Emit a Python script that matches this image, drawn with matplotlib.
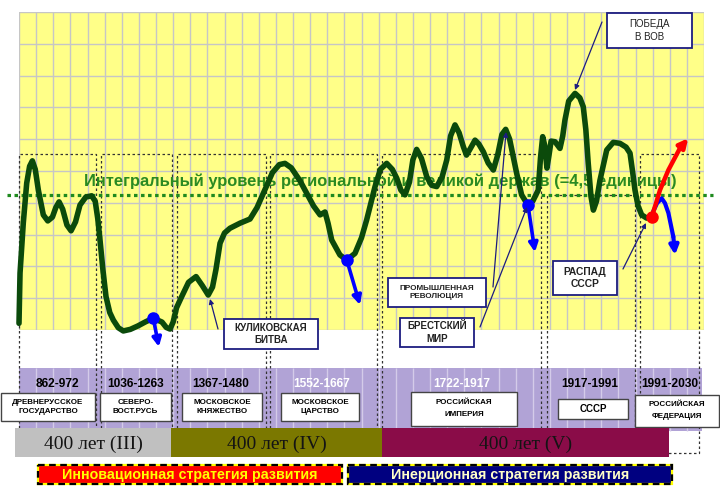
import matplotlib
matplotlib.use('Agg')
import matplotlib.pyplot as plt
from matplotlib.patches import Rectangle

plt.rcParams['font.family'] = ['Liberation Sans', 'DejaVu Sans']

# ---------------- data (grid units: x = grid column, y = level in grid rows) ----
curve_x = [0.00, 0.06, 0.25, 0.45, 0.62, 0.78, 0.95, 1.13, 1.42, 1.68, 1.95, 2.15, 2.34, 2.55,
           2.80, 3.04, 3.30, 3.56, 3.90, 4.24, 4.45, 4.60, 4.73, 4.90, 5.08, 5.30, 5.51, 5.80,
           6.09, 6.50, 6.95, 7.40, 7.84, 8.35, 8.60, 8.82, 9.00, 9.20, 9.50, 9.90, 10.34, 10.70,
           11.05, 11.30, 11.50, 11.74, 12.00, 12.32, 12.91, 13.49, 13.90, 14.27, 14.80, 15.20,
           15.53, 15.90, 16.40, 16.80, 17.20, 17.58, 17.87, 18.05, 18.26, 18.74, 19.14, 19.62,
           20.00, 20.30, 20.79, 21.10, 21.47, 21.80, 22.06, 22.30, 22.54, 22.80, 23.00, 23.22,
           23.50, 23.81, 24.10, 24.39, 24.70, 24.98, 25.20, 25.46, 25.70, 25.95, 26.13, 26.35,
           26.63, 26.85, 27.11, 27.40, 27.70, 27.95, 28.20, 28.42, 28.65, 29.06, 29.35, 29.69,
           30.00, 30.32, 30.45, 30.58, 30.70, 30.83, 30.95, 31.07, 31.30, 31.59, 31.75, 31.88,
           32.10, 32.47, 32.75, 32.95, 33.10, 33.24, 33.40, 33.54, 33.72, 33.93, 34.32, 34.70,
           35.09, 35.45, 35.68, 35.85, 35.97, 36.15, 36.36, 36.65, 36.95]
curve_y = [0.21, 1.79, 3.36, 4.62, 5.15, 5.32, 5.05, 4.40, 3.62, 3.43, 3.55, 3.85, 4.03, 3.80,
           3.30, 3.12, 3.40, 3.93, 4.18, 4.22, 4.05, 3.50, 2.83, 1.89, 1.05, 0.55, 0.31, 0.07,
           -0.03, 0.02, 0.13, 0.26, 0.37, 0.25, 0.08, 0.03, 0.25, 0.70, 1.05, 1.50, 1.68, 1.40,
           1.10, 1.35, 1.90, 2.73, 3.05, 3.20, 3.36, 3.49, 3.85, 4.30, 4.95, 5.20,
           5.24, 5.10, 4.70, 4.30, 3.90, 3.62, 3.71, 3.35, 2.83, 2.36, 2.20, 2.41,
           2.90, 3.46, 4.51, 5.05, 5.24, 5.05, 4.77, 4.40, 4.25, 4.65, 5.35, 5.68,
           5.40, 4.82, 4.55, 4.51, 4.80, 5.35, 6.10, 6.45, 6.20, 5.76, 5.50, 5.70,
           5.97, 5.85, 5.61, 5.25, 5.03, 5.50, 6.15, 6.31, 6.00, 4.93, 4.25, 3.95,
           4.05, 4.40, 5.40, 6.08, 5.80, 5.09, 5.50, 5.94, 5.92, 5.71, 6.10, 6.60,
           7.20, 7.44, 7.30, 7.02, 6.30, 5.24, 4.20, 3.77, 4.05, 4.72, 5.66, 5.90,
           5.87, 5.75, 5.56, 4.90, 4.40, 3.90, 3.62, 3.52, 3.55]

level_value = 4.25
level_label = 'Интегральный уровень региональной и великой держав (=4,5 единицы)'

# crisis points (blue) and the direction of decline (arrow tips)
crisis_x = [7.84, 19.14, 29.72]
crisis_y = [0.37, 2.20, 3.93]
crisis_tip_x = [8.17, 19.91, 30.13]
crisis_tip_y = [-0.53, 0.79, 2.45]

# scenarios after the collapse of the USSR
red_x = [36.95, 37.20, 37.43, 37.92, 38.59, 39.08]
red_y = [3.56, 3.99, 4.40, 5.03, 5.71, 6.03]
blue_x = [37.02, 37.26, 37.53, 37.72, 37.92, 38.21, 38.31]
blue_y = [3.71, 3.99, 4.14, 3.99, 3.68, 2.93, 2.36]

# periods (grid-column spans)
period_start = [0.00, 4.77, 9.21, 14.66, 21.20, 30.81, 36.26]
period_end = [4.47, 8.92, 14.41, 20.88, 30.51, 35.97, 39.71]
period_top = [5.53, 5.53, 5.53, 5.53, 5.53, 4.25, 5.53]
period_years = ['862-972', '1036-1263', '1367-1480', '1552-1667', '1722-1917', '1917-1991', '1991-2030']
period_names = ['ДРЕВНЕРУССКОЕ\nГОСУДАРСТВО', 'СЕВЕРО-\nВОСТ.РУСЬ', 'МОСКОВСКОЕ\nКНЯЖЕСТВО',
                'МОСКОВСКОЕ\nЦАРСТВО', 'РОССИЙСКАЯ\nИМПЕРИЯ', 'СССР', 'РОССИЙСКАЯ\nФЕДЕРАЦИЯ']

cycle_labels = ['400 лет (III)', '400 лет (IV)', '400 лет (V)']
strategy_labels = ['Инновационная стратегия развития', 'Инерционная стратегия развития']
event_labels = ['ПОБЕДА\nВ ВОВ', 'КУЛИКОВСКАЯ\nБИТВА', 'ПРОМЫШЛЕННАЯ\nРЕВОЛЮЦИЯ',
                'БРЕСТСКИЙ\nМИР', 'РАСПАД\nСССР']

# ---------------- figure ----------------
W, H = 720, 496
fig = plt.figure(figsize=(7.2, 4.96), dpi=100)
fig.patch.set_facecolor('white')

gx0, gx1, gy0, gy1 = 19, 704, 12, 330
ax = fig.add_axes([gx0 / W, 1 - gy1 / H, (gx1 - gx0) / W, (gy1 - gy0) / H])
ax.set_xlim(0, 40)
ax.set_ylim(0, 10)
ax.set_facecolor('#ffff88')
ax.set_xticks(range(41))
ax.set_yticks(range(11))
ax.grid(True, color='#c6c6c6', lw=1.0)
ax.tick_params(length=0, labelbottom=False, labelleft=False)
for s in ax.spines.values():
    s.set_visible(False)

# purple band with the time grid
ax.add_patch(Rectangle((0, -3.18), 39.9, 1.985, facecolor='#b1a3d6', edgecolor='none',
                       clip_on=False, zorder=1))
ax.vlines(range(1, 40), -3.18, -1.195, color='#d4cbe9', lw=1.0, clip_on=False, zorder=1.2)

# dotted period boxes
for xs, xe, yt in zip(period_start, period_end, period_top):
    ax.plot([xs, xs, xe, xe, xs], [-3.87, yt, yt, -3.87, -3.87], color='#333333', lw=0.9,
            ls=(0, (2, 2)), clip_on=False, zorder=2)

# integral level line and label
ax.plot([-0.7, 40.5], [level_value, level_value], color='#1f8a1f', lw=2.3,
        ls=(0, (1.1, 1.1)), clip_on=False, zorder=3)
ax.text(21.08, 4.685, level_label, color='#2a8a22', fontsize=11.9, fontweight='bold',
        ha='center', va='center', zorder=3.5, clip_on=False)

# main curve
ax.plot(curve_x, curve_y, color='#0b4a0b', lw=4.0, solid_joinstyle='round',
        solid_capstyle='round', clip_on=False, zorder=4)

# crisis arrows
for cx, cy, tx, ty in zip(crisis_x, crisis_y, crisis_tip_x, crisis_tip_y):
    ax.annotate('', xy=(tx, ty), xytext=(cx, cy), annotation_clip=False, zorder=5,
                arrowprops=dict(arrowstyle='-|>', color='#0000ff', lw=2.6,
                                mutation_scale=13, shrinkA=0, shrinkB=0))
ax.plot(crisis_x, crisis_y, 'o', color='#0000ff', ms=8, zorder=6, clip_on=False)

# future scenarios
ax.plot(blue_x[:-1], blue_y[:-1], color='#0000ff', lw=3.0, solid_capstyle='round', zorder=5,
        clip_on=False)
ax.annotate('', xy=(blue_x[-1], blue_y[-1]), xytext=(blue_x[-2], blue_y[-2]),
            annotation_clip=False, zorder=5,
            arrowprops=dict(arrowstyle='-|>', color='#0000ff', lw=3.0, mutation_scale=13,
                            shrinkA=0, shrinkB=0))
ax.plot(red_x[:-1], red_y[:-1], color='#ff0000', lw=3.2, solid_capstyle='round', zorder=5.5,
        clip_on=False)
ax.annotate('', xy=(red_x[-1], red_y[-1]), xytext=(red_x[-2], red_y[-2]),
            annotation_clip=False, zorder=5.5,
            arrowprops=dict(arrowstyle='-|>', color='#ff0000', lw=3.2, mutation_scale=13,
                            shrinkA=0, shrinkB=0))
ax.plot([red_x[0]], [red_y[0]], 'o', color='#ff0000', ms=8, zorder=6, clip_on=False)

# ---------------- overlay in pixel coordinates ----------------
ov = fig.add_axes([0, 0, 1, 1], zorder=5)
ov.set_xlim(0, W)
ov.set_ylim(H, 0)
ov.axis('off')
ov.patch.set_alpha(0)


def box(x0, y0, x1, y1, text, fs, weight='bold', ec='#444444', lw=1.0, color='black',
        ls=1.2, fc='white', z=6):
    ov.add_patch(Rectangle((x0, y0), x1 - x0, y1 - y0, facecolor=fc, edgecolor=ec, lw=lw,
                           zorder=z))
    ov.text((x0 + x1) / 2, (y0 + y1) / 2, text, fontsize=fs, fontweight=weight, color=color,
            ha='center', va='center', linespacing=ls, zorder=z + 0.1)


# period years and names
year_px = [57, 136, 221, 322, 462, 590, 670]
year_col = ['black', 'black', 'black', 'white', 'white', 'black', 'black']
for t, xp, c in zip(period_years, year_px, year_col):
    ov.text(xp, 384, t, fontsize=8.6, fontweight='bold', color=c, ha='center', va='center',
            zorder=6)
name_boxes = [(1, 393, 95, 421, 1.25), (100, 393, 171, 421, 1.25), (182, 393, 262, 421, 1.25),
              (281, 393, 359, 421, 1.25), (411, 392, 517, 426, 2.0), (558, 399, 628, 419, 1.2),
              (635, 395, 719, 427, 2.0)]
for (x0, y0, x1, y1, lsp), name in zip(name_boxes, period_names):
    box(x0, y0, x1, y1, name, 5.8 if name != 'СССР' else 7, ls=lsp)

# 400-year cycles
cycle_px = [(15, 171, '#c0c0c0'), (171, 382, '#7b7800'), (382, 669, '#8a0c48')]
for (x0, x1, c), lab in zip(cycle_px, cycle_labels):
    ov.add_patch(Rectangle((x0, 428), x1 - x0, 29, facecolor=c, edgecolor='none', zorder=6))
    ov.text((x0 + x1) / 2, 444, lab, fontsize=14, family=['Liberation Serif', 'DejaVu Serif'],
            color='#141414', ha='center', va='center', zorder=6.1)

# strategy banners
banners = [(38, 342, '#ff0000', '#ffff00'), (348, 672, '#000080', '#ffffc8')]
for (x0, x1, fc, tc), lab in zip(banners, strategy_labels):
    ov.add_patch(Rectangle((x0, 465), x1 - x0, 19, facecolor=fc, edgecolor='#ffff00', lw=1.6,
                           zorder=6))
    ov.add_patch(Rectangle((x0, 465), x1 - x0, 19, facecolor='none', edgecolor='black', lw=1.6,
                           ls=(0, (3, 2)), zorder=6.05))
    ov.text((x0 + x1) / 2, 475, lab, fontsize=10.3, fontweight='bold', color=tc, ha='center',
            va='center', zorder=6.1)

# event annotations
events = [((607, 13, 692, 48), (602, 22), (575, 90), 'normal', 7.0),
          ((224, 319, 318, 349), (218, 329), (210, 299), 'bold', 7.0),
          ((388, 278, 486, 307), (493, 287), (506, 132), 'bold', 5.9),
          ((400, 318, 474, 347), (480, 327), (527, 207), 'bold', 7.0),
          ((553, 261, 617, 295), (623, 269), (646, 223), 'bold', 7.4)]
for (bx, tail, tip, wt, fs), lab in zip(events, event_labels):
    box(*bx, lab, fs, weight=wt, ec='#1c1c80', lw=1.3, color='#222222', ls=1.3)
    ov.annotate('', xy=tip, xytext=tail, zorder=6,
                arrowprops=dict(arrowstyle='-|>', color='#1c1c80', lw=0.9, mutation_scale=7,
                                shrinkA=0, shrinkB=0))

fig.savefig('out.png', dpi=100)
